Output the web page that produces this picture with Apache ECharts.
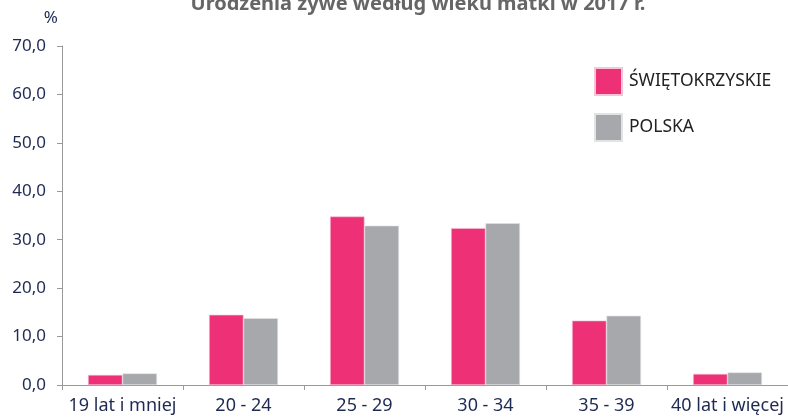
<!DOCTYPE html>
<html><head><meta charset="utf-8">
<script src="https://cdn.jsdelivr.net/npm/echarts@6/dist/echarts.min.js"></script>
<style>html,body{margin:0;padding:0;background:#fff}#c{width:788px;height:417px}</style>
</head><body><div id="c"></div>
<script>
const categories = ["19 lat i mniej","20 - 24","25 - 29","30 - 34","35 - 39","40 lat i więcej"];
const swietokrzyskie = [2.1, 14.5, 34.8, 32.4, 13.3, 2.3];
const polska = [2.4, 13.8, 32.9, 33.4, 14.3, 2.6];
const yTicks = {min: 0, max: 70, interval: 10};
const font = '"Noto Sans", "Open Sans", sans-serif';
const chart = echarts.init(document.getElementById('c'));
chart.setOption({
  animation: false,
  title: {text: 'Urodzenia żywe według wieku matki w 2017 r.', left: 413, textAlign: 'center', top: -11,
    textStyle: {fontFamily: font, fontSize: 20, fontWeight: 'bold', color: '#666'}},
  legend: {orient: 'vertical', left: 589, top: 62, itemWidth: 27, itemHeight: 27, itemGap: 17,
    icon: 'rect', textStyle: {fontFamily: font, fontSize: 17.5, color: '#222', padding: [0,0,0,2]},
    data: ['ŚWIĘTOKRZYSKIE','POLSKA']},
  grid: {left: 62, right: 0, top: 46, bottom: 32},
  xAxis: {type: 'category', data: categories,
    axisLine: {lineStyle: {color: '#999'}},
    axisTick: {show: true, length: 5, lineStyle: {color: '#999'}},
    axisLabel: {fontFamily: font, fontSize: 18, color: '#1f2a52', margin: 12, interval: 0}},
  yAxis: {type: 'value', min: yTicks.min, max: yTicks.max, interval: yTicks.interval,
    name: '%', nameLocation: 'end', nameGap: 19, nameTextStyle: {fontFamily: font, fontSize: 17, color: '#1f2a52', align: 'right', padding: [0, 4, 0, 0]},
    splitLine: {show: false},
    axisLine: {show: true, lineStyle: {color: '#999'}},
    axisTick: {show: true, length: 5, lineStyle: {color: '#999'}},
    axisLabel: {fontFamily: font, fontSize: 17, color: '#1f2a52', margin: 16,
      formatter: v => v.toFixed(1).replace('.', ',')}},
  series: [
    {name: 'ŚWIĘTOKRZYSKIE', type: 'bar', data: swietokrzyskie, barGap: '0%', barCategoryGap: '43%',
      itemStyle: {color: '#ee3176', borderColor: '#f7c6d6', borderWidth: 0.6}},
    {name: 'POLSKA', type: 'bar', data: polska,
      itemStyle: {color: '#a7a8ac', borderColor: '#e3e3e5', borderWidth: 0.6}}
  ]
});
</script></body></html>
